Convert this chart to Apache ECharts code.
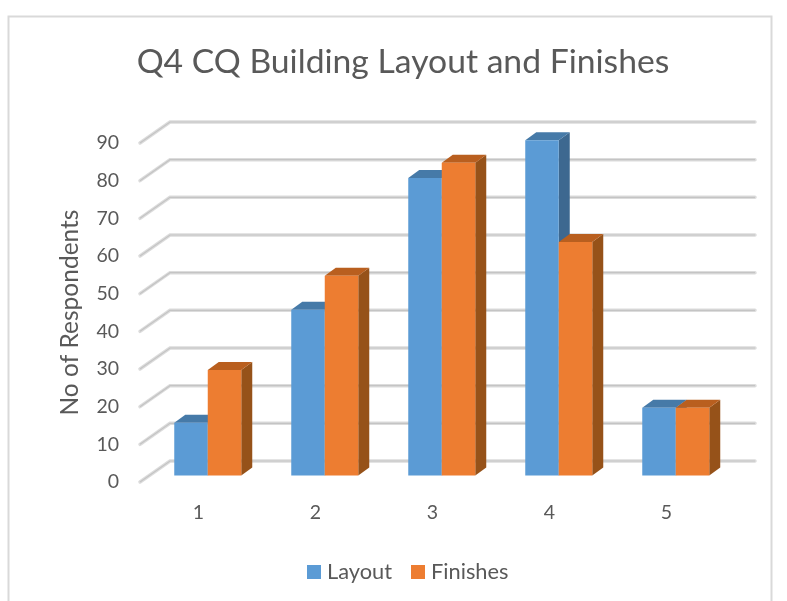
<!DOCTYPE html>
<html>
<head>
<meta charset="utf-8">
<title>Q4 CQ Building Layout and Finishes</title>
<script src="https://cdn.jsdelivr.net/npm/echarts@6/dist/echarts.min.js"></script>
<style>
  html, body { margin: 0; padding: 0; background: #fff; }
  #chart { width: 787px; height: 601px; }
</style>
</head>
<body>
<div id="chart"></div>
<script>
const categories = ["1", "2", "3", "4", "5"];
const layoutValues = [14, 44, 79, 89, 18];
const finishesValues = [28, 53, 83, 62, 18];
const yTicks = [0, 10, 20, 30, 40, 50, 60, 70, 80, 90];

// fake 3D: how far the back wall and the bars sit from the front plane
const wallDx = 30;
const wallDy = -21;
const barWidth = 33.5;
const barShiftX = 9.25;
const barShiftY = -6.5;
const barDepthX = 11;
const barDepthY = -8;

const chart = echarts.init(document.getElementById("chart"));

// gridline: diagonal on the side wall, then straight along the back wall
const renderGridLine = (params, api) => {
  const y = api.coord([0, api.value(1)])[1];
  const left = params.coordSys.x;
  const right = left + params.coordSys.width;
  const points = [
    [left, y],
    [left + wallDx, y + wallDy],
    [right + wallDx, y + wallDy]
  ];
  return {
    type: "group",
    children: [
      {
        type: "polyline",
        shape: { points },
        style: { fill: null, stroke: "#dcdcdc", lineWidth: 3.5, lineCap: "round" }
      },
      {
        type: "polyline",
        shape: { points },
        style: { fill: null, stroke: "#c4c4c4", lineWidth: 1.2 }
      }
    ]
  };
};

const makeBarSeries = (name, values, color, topColor, sideColor, offset) => ({
  name,
  type: "custom",
  clip: false,
  z: 3,
  itemStyle: { color },
  data: values.map((v, i) => [i, v]),
  renderItem: (params, api) => {
    const top = api.coord([api.value(0), api.value(1)]);
    const base = api.coord([api.value(0), 0]);
    const x0 = top[0] + barShiftX + offset;
    const x1 = x0 + barWidth;
    const y0 = top[1] + barShiftY;
    const y1 = base[1] + barShiftY;
    return {
      type: "group",
      children: [
        {
          type: "polygon",
          shape: {
            points: [
              [x1, y0],
              [x1 + barDepthX, y0 + barDepthY],
              [x1 + barDepthX, y1 + barDepthY],
              [x1, y1]
            ]
          },
          style: { fill: sideColor }
        },
        {
          type: "polygon",
          shape: {
            points: [
              [x0, y0],
              [x0 + barDepthX, y0 + barDepthY],
              [x1 + barDepthX, y0 + barDepthY],
              [x1, y0]
            ]
          },
          style: { fill: topColor }
        },
        {
          type: "rect",
          shape: { x: x0, y: y0, width: barWidth, height: y1 - y0 },
          style: { fill: color }
        }
      ]
    };
  }
});

chart.setOption({
  animation: false,
  backgroundColor: "#fff",
  textStyle: { fontFamily: "Lato" },
  graphic: [
    {
      type: "rect",
      silent: true,
      z: -1,
      shape: { x: 8.5, y: 16.5, width: 763, height: 640 },
      style: { fill: "#fff", stroke: "#d9d9d9", lineWidth: 2 }
    }
  ],
  title: {
    text: "Q4 CQ Building Layout and Finishes",
    left: 398,
    top: 40,
    textAlign: "center",
    textStyle: { color: "#595959", fontSize: 33.7, fontWeight: "normal", fontFamily: "Lato" }
  },
  legend: {
    data: ["Layout", "Finishes"],
    left: 302,
    top: 556,
    icon: "rect",
    itemWidth: 14,
    itemHeight: 14,
    itemGap: 19,
    textStyle: { color: "#595959", fontSize: 21.8, fontFamily: "Lato", padding: [0, 0, 0, 1] }
  },
  grid: { left: 140, top: 143, width: 585, height: 339 },
  xAxis: {
    type: "category",
    data: categories,
    axisLine: { show: false },
    axisTick: { show: false },
    splitLine: { show: false },
    axisLabel: { color: "#595959", fontSize: 19.5, margin: 21, fontFamily: "Lato" }
  },
  yAxis: {
    type: "value",
    min: 0,
    max: 90,
    interval: 10,
    name: "No of Respondents",
    nameLocation: "middle",
    nameGap: 57,
    nameTextStyle: { color: "#595959", fontSize: 24.5, fontFamily: "Lato" },
    axisLine: { show: false },
    axisTick: { show: false },
    splitLine: { show: false },
    axisLabel: { color: "#595959", fontSize: 19.5, margin: 21, fontFamily: "Lato" }
  },
  series: [
    {
      type: "custom",
      clip: false,
      z: 1,
      silent: true,
      data: yTicks.map(v => [0, v]),
      renderItem: renderGridLine
    },
    makeBarSeries("Layout", layoutValues, "#5b9bd5", "#467aa8", "#3d6890", -barWidth),
    makeBarSeries("Finishes", finishesValues, "#ed7d31", "#b95f1f", "#965219", 0)
  ]
});
</script>
</body>
</html>
